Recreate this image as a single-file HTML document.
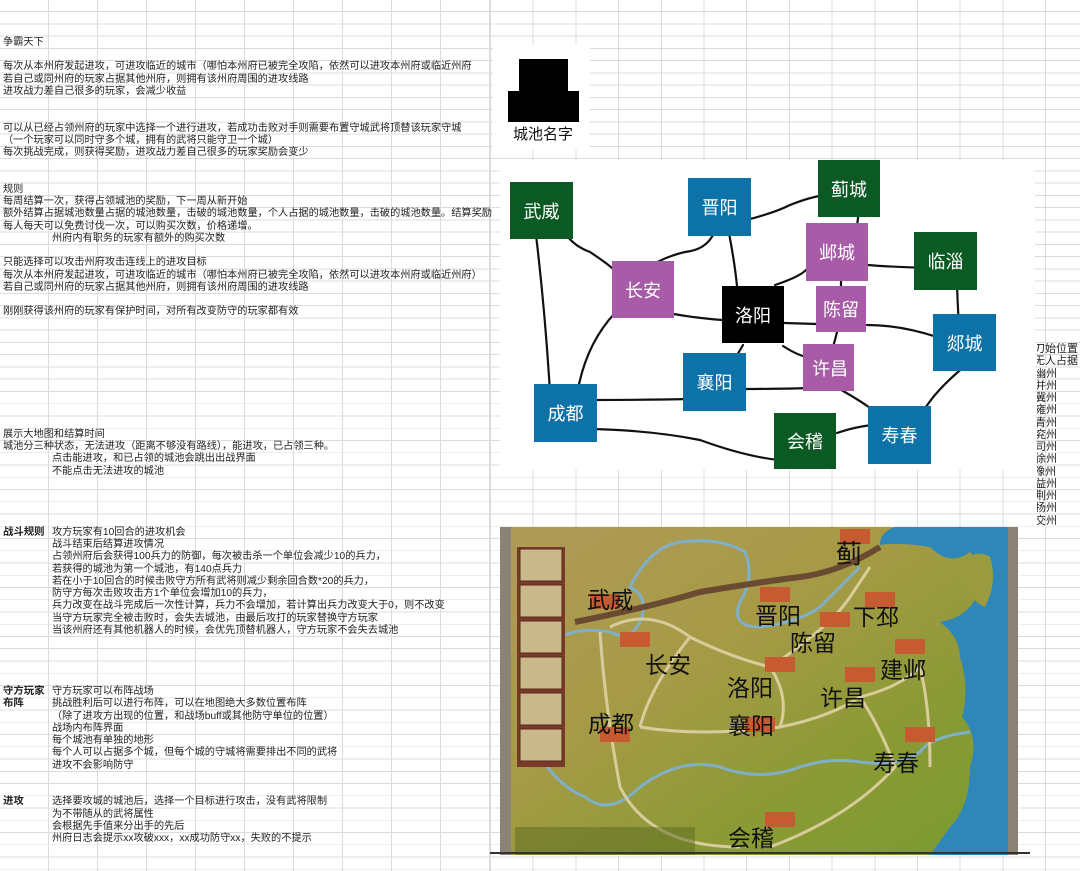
<!DOCTYPE html>
<html><head><meta charset="utf-8">
<style>
*{margin:0;padding:0;box-sizing:border-box}
html,body{width:1080px;height:871px;overflow:hidden;background:#fff}
body{position:relative;font-family:"Liberation Sans","Noto Sans CJK SC",sans-serif;color:#222}
.grid{position:absolute;left:0;top:0;width:1080px;height:871px;
background-image:
repeating-linear-gradient(to bottom,transparent 0,transparent 11.25px,#dcdcdc 11.25px,#dcdcdc 12.25px),
repeating-linear-gradient(to right,transparent 0,transparent 48px,#dcdcdc 48px,#dcdcdc 49px);}
.grid2{position:absolute;left:490px;top:0;width:590px;height:871px;background:#fff;
background-image:
repeating-linear-gradient(to bottom,transparent 0,transparent 11.25px,#dcdcdc 11.25px,#dcdcdc 12.25px),
repeating-linear-gradient(to right,#dcdcdc 0,#dcdcdc 1px,transparent 1px,transparent 42.7px);}
.t{position:absolute;font-size:10.2px;line-height:12.25px;white-space:nowrap}
.b{font-weight:bold;font-size:10.4px}
.wb{position:absolute;background:#fff}
.n{position:absolute;color:#fff;font-size:18px;display:flex;align-items:center;justify-content:center;font-family:"Noto Sans CJK SC",sans-serif}
.g{background:#0b5a24}.bl{background:#0d72a8}.p{background:#a85ca8}.k{background:#000}
.ml{position:absolute;font-size:23px;color:#111;font-family:"Noto Sans CJK SC",sans-serif;line-height:1}
.r{font-size:11px}
</style></head><body>
<div class="grid"></div>
<div class="grid2"></div>

<div class="t" style="left:3px;top:36.75px">争霸天下</div>
<div class="t" style="left:3px;top:61.25px">每次从本州府发起进攻，可进攻临近的城市（哪怕本州府已被完全攻陷，依然可以进攻本州府或临近州府</div>
<div class="t" style="left:3px;top:73.5px">若自己或同州府的玩家占据其他州府，则拥有该州府周围的进攻线路</div>
<div class="t" style="left:3px;top:85.75px">进攻战力差自己很多的玩家，会减少收益</div>
<div class="t" style="left:3px;top:122.5px">可以从已经占领州府的玩家中选择一个进行进攻，若成功击败对手则需要布置守城武将顶替该玩家守城</div>
<div class="t" style="left:3px;top:134.75px">（一个玩家可以同时守多个城，拥有的武将只能守卫一个城）</div>
<div class="t" style="left:3px;top:147px">每次挑战完成，则获得奖励，进攻战力差自己很多的玩家奖励会变少</div>
<div class="t" style="left:3px;top:183.75px">规则</div>
<div class="t" style="left:3px;top:196px">每周结算一次，获得占领城池的奖励，下一周从新开始</div>
<div class="t" style="left:3px;top:208.25px">额外结算占据城池数量占据的城池数量，击破的城池数量，个人占据的城池数量，击破的城池数量。结算奖励</div>
<div class="t" style="left:3px;top:220.5px">每人每天可以免费讨伐一次，可以购买次数，价格递增。</div>
<div class="t" style="left:52px;top:232.75px">州府内有职务的玩家有额外的购买次数</div>
<div class="t" style="left:3px;top:257.25px">只能选择可以攻击州府攻击连线上的进攻目标</div>
<div class="t" style="left:3px;top:269.5px">每次从本州府发起进攻，可进攻临近的城市（哪怕本州府已被完全攻陷，依然可以进攻本州府或临近州府）</div>
<div class="t" style="left:3px;top:281.75px">若自己或同州府的玩家占据其他州府，则拥有该州府周围的进攻线路</div>
<div class="t" style="left:3px;top:306.25px">刚刚获得该州府的玩家有保护时间，对所有改变防守的玩家都有效</div>
<div class="t" style="left:3px;top:428.75px">展示大地图和结算时间</div>
<div class="t" style="left:3px;top:441px">城池分三种状态，无法进攻（距离不够没有路线），能进攻，已占领三种。</div>
<div class="t" style="left:52px;top:453.25px">点击能进攻，和已占领的城池会跳出出战界面</div>
<div class="t" style="left:52px;top:465.5px">不能点击无法进攻的城池</div>

<div class="t b" style="left:3px;top:526.75px">战斗规则</div>
<div class="t" style="left:52px;top:526.75px">攻方玩家有10回合的进攻机会</div>
<div class="t" style="left:52px;top:539px">战斗结束后结算进攻情况</div>
<div class="t" style="left:52px;top:551.25px">占领州府后会获得100兵力的防御，每次被击杀一个单位会减少10的兵力，</div>
<div class="t" style="left:52px;top:563.5px">若获得的城池为第一个城池，有140点兵力</div>
<div class="t" style="left:52px;top:575.75px">若在小于10回合的时候击败守方所有武将则减少剩余回合数*20的兵力，</div>
<div class="t" style="left:52px;top:588px">防守方每次击败攻击方1个单位会增加10的兵力，</div>
<div class="t" style="left:52px;top:600.25px">兵力改变在战斗完成后一次性计算，兵力不会增加，若计算出兵力改变大于0，则不改变</div>
<div class="t" style="left:52px;top:612.5px">当守方玩家完全被击败时，会失去城池，由最后攻打的玩家替换守方玩家</div>
<div class="t" style="left:52px;top:624.75px">当该州府还有其他机器人的时候，会优先顶替机器人，守方玩家不会失去城池</div>

<div class="t b" style="left:3px;top:686px">守方玩家</div>
<div class="t b" style="left:3px;top:698.25px">布阵</div>
<div class="t" style="left:52px;top:686px">守方玩家可以布阵战场</div>
<div class="t" style="left:52px;top:698.25px">挑战胜利后可以进行布阵，可以在地图绝大多数位置布阵</div>
<div class="t" style="left:52px;top:710.5px">（除了进攻方出现的位置，和战场buff或其他防守单位的位置）</div>
<div class="t" style="left:52px;top:722.75px">战场内布阵界面</div>
<div class="t" style="left:52px;top:735px">每个城池有单独的地形</div>
<div class="t" style="left:52px;top:747.25px">每个人可以占据多个城，但每个城的守城将需要排出不同的武将</div>
<div class="t" style="left:52px;top:759.5px">进攻不会影响防守</div>

<div class="t b" style="left:3px;top:796.25px">进攻</div>
<div class="t" style="left:52px;top:796.25px">选择要攻城的城池后，选择一个目标进行攻击，没有武将限制</div>
<div class="t" style="left:52px;top:808.5px">为不带随从的武将属性</div>
<div class="t" style="left:52px;top:820.75px">会根据先手值来分出手的先后</div>
<div class="t" style="left:52px;top:833px">州府日志会提示xx攻破xxx，xx成功防守xx，失败的不提示</div>

<div style="position:absolute;left:1037px;top:343px;width:43px;height:200px;overflow:hidden">
<div class="t r" style="left:-3px;top:0">刀始位置</div>
<div class="t r" style="left:-3px;top:12.25px">无人占据</div>
<div class="t r" style="left:-2px;top:24.5px">幽州</div>
<div class="t r" style="left:-2px;top:36.75px">并州</div>
<div class="t r" style="left:-2px;top:49px">冀州</div>
<div class="t r" style="left:-2px;top:61.25px">雍州</div>
<div class="t r" style="left:-2px;top:73.5px">青州</div>
<div class="t r" style="left:-2px;top:85.75px">兖州</div>
<div class="t r" style="left:-2px;top:98px">司州</div>
<div class="t r" style="left:-2px;top:110.25px">徐州</div>
<div class="t r" style="left:-3px;top:122.5px">豫州</div>
<div class="t r" style="left:-2px;top:134.75px">益州</div>
<div class="t r" style="left:-2px;top:147px">荆州</div>
<div class="t r" style="left:-2px;top:159.25px">扬州</div>
<div class="t r" style="left:-2px;top:171.5px">交州</div>
</div>

<div class="wb" style="left:493px;top:45px;width:97px;height:105px"></div>
<div style="position:absolute;left:519px;top:59px;width:49px;height:33px;background:#000"></div>
<div style="position:absolute;left:508px;top:91px;width:71px;height:31px;background:#000"></div>
<div style="position:absolute;left:513px;top:123px;width:80px;font-size:15px;font-family:'Noto Sans CJK SC',sans-serif;color:#111">城池名字</div>

<div class="wb" style="left:500px;top:160px;width:535px;height:310px"></div>
<svg style="position:absolute;left:0;top:0" width="1080" height="871">
<g fill="none" stroke="#111" stroke-width="2.2" stroke-linecap="round">
<path d="M560 225 Q570 245 590 252 Q605 262 612 268"/>
<path d="M536 235 Q545 310 550 392"/>
<path d="M733 223 Q770 215 790 205 Q810 197 825 195"/>
<path d="M713 235 Q705 250 685 252 Q660 258 643 271"/>
<path d="M729 233 Q735 265 737 286"/>
<path d="M859 203 Q858 230 852 247"/>
<path d="M638 303 Q660 315 722 320"/>
<path d="M615 313 Q585 345 577 395"/>
<path d="M808 267 Q805 275 775 285"/>
<path d="M868 265 Q905 268 943 268"/>
<path d="M841 278 L841 297"/>
<path d="M957 285 Q958 315 960 340"/>
<path d="M784 323 L817 324"/>
<path d="M867 325 Q900 325 937 337"/>
<path d="M837 332 Q834 345 830 355"/>
<path d="M743 345 L733 362"/>
<path d="M783 346 Q800 357 812 358"/>
<path d="M740 389 Q780 389 808 388"/>
<path d="M595 400 Q640 400 692 399"/>
<path d="M588 429 Q650 430 700 440 Q755 460 793 461"/>
<path d="M834 386 Q860 400 877 413"/>
<path d="M965 366 Q930 395 920 418"/>
<path d="M837 433 Q860 425 885 424"/>
</g>
</svg>
<div class="n g" style="left:510px;top:182px;width:63px;height:57px">武威</div>
<div class="n bl" style="left:688px;top:178px;width:63px;height:58px">晋阳</div>
<div class="n g" style="left:818px;top:160px;width:62px;height:57px">蓟城</div>
<div class="n p" style="left:806px;top:223px;width:62px;height:58px">邺城</div>
<div class="n g" style="left:914px;top:232px;width:63px;height:58px">临淄</div>
<div class="n p" style="left:612px;top:261px;width:62px;height:57px">长安</div>
<div class="n k" style="left:722px;top:286px;width:62px;height:57px">洛阳</div>
<div class="n p" style="left:816px;top:286px;width:50px;height:46px">陈留</div>
<div class="n bl" style="left:933px;top:314px;width:63px;height:57px">郯城</div>
<div class="n p" style="left:803px;top:344px;width:51px;height:47px;justify-content:flex-start;padding-left:9px">许昌</div>
<div class="n bl" style="left:683px;top:353px;width:63px;height:58px">襄阳</div>
<div class="n bl" style="left:534px;top:384px;width:63px;height:58px">成都</div>
<div class="n g" style="left:774px;top:413px;width:62px;height:56px">会稽</div>
<div class="n bl" style="left:868px;top:406px;width:63px;height:58px">寿春</div>

<svg style="position:absolute;left:500px;top:527px" width="518" height="328" viewBox="0 0 518 328">
<defs>
<linearGradient id="land" x1="0" y1="0" x2="1" y2="1">
<stop offset="0" stop-color="#b09a58"/><stop offset="0.4" stop-color="#a59a45"/><stop offset="0.7" stop-color="#8a9a35"/><stop offset="1" stop-color="#7a9a30"/>
</linearGradient>
</defs>
<rect width="518" height="328" fill="#8a8274"/>
<rect x="11" y="0" width="497" height="328" fill="url(#land)"/>
<path d="M380 18 Q400 15 430 20 Q450 40 470 25 Q490 45 478 65 Q470 90 440 95 Q460 110 460 130 Q470 160 462 190 Q480 210 470 240 Q470 280 450 300 L430 328 L508 328 L508 0 L395 0 Q380 5 380 18Z" fill="#2f86b8"/>
<path d="M452 40 Q475 20 490 30 Q498 55 485 80 Q470 75 452 40Z" fill="#9a9a40"/>
<g fill="none" stroke="#7fb0c8" stroke-width="3">
<path d="M60 110 Q80 100 110 105 Q130 115 140 95 Q150 70 130 60 Q150 20 180 15 Q220 10 245 25 Q255 50 240 75 Q230 100 260 100 Q300 95 320 80 Q340 60 360 40"/>
<path d="M40 230 Q60 260 85 270 Q110 290 140 260 Q180 230 220 240 Q260 255 300 240 Q330 230 360 235 Q400 240 420 225 Q430 210 470 205"/>
</g>
<g fill="none" stroke="#d8cc9a" stroke-width="3">
<path d="M110 100 Q150 80 190 110 Q230 130 270 140"/>
<path d="M100 105 Q105 180 120 260 Q150 320 240 320"/>
<path d="M190 110 Q150 160 140 200"/>
<path d="M270 140 Q330 100 350 70 L370 40"/>
<path d="M270 140 Q290 170 280 200 Q330 190 360 170 Q400 160 420 140"/>
<path d="M140 200 Q200 210 280 200"/>
<path d="M360 170 Q380 200 395 240 Q350 290 270 320"/>
<path d="M420 140 Q430 180 430 240"/>
</g>
<path d="M75 95 Q150 80 200 65 Q260 55 300 50 Q340 45 380 20" fill="none" stroke="#6a4a30" stroke-width="6"/>
<rect x="17" y="20" width="48" height="220" fill="#7a3a2a"/>
<g fill="#c9b88a" stroke="#5a2a1a"><rect x="20" y="22" width="42" height="32"/><rect x="20" y="58" width="42" height="32"/><rect x="20" y="94" width="42" height="32"/><rect x="20" y="130" width="42" height="32"/><rect x="20" y="166" width="42" height="32"/><rect x="20" y="202" width="42" height="32"/></g>
<g fill="#c65a30">
<rect x="340" y="2" width="30" height="15"/><rect x="90" y="67" width="30" height="15"/><rect x="260" y="60" width="30" height="15"/><rect x="120" y="105" width="30" height="15"/><rect x="320" y="85" width="30" height="15"/><rect x="365" y="65" width="30" height="15"/><rect x="265" y="130" width="30" height="15"/><rect x="345" y="140" width="30" height="15"/><rect x="395" y="112" width="30" height="15"/><rect x="245" y="190" width="30" height="15"/><rect x="100" y="200" width="30" height="15"/><rect x="405" y="200" width="30" height="15"/><rect x="265" y="285" width="30" height="15"/>
</g>
<rect x="15" y="300" width="180" height="28" fill="#5a6a20" opacity="0.5"/>
</svg>
<div class="ml" style="left:587px;top:587px">武威</div>
<div class="ml" style="left:755px;top:603px">晋阳</div>
<div class="ml" style="left:836px;top:540px;font-size:26px">蓟</div>
<div class="ml" style="left:853px;top:604px">下邳</div>
<div class="ml" style="left:790px;top:630px">陈留</div>
<div class="ml" style="left:645px;top:652px">长安</div>
<div class="ml" style="left:880px;top:657px">建邺</div>
<div class="ml" style="left:727px;top:675px">洛阳</div>
<div class="ml" style="left:820px;top:685px">许昌</div>
<div class="ml" style="left:588px;top:711px">成都</div>
<div class="ml" style="left:728px;top:713px">襄阳</div>
<div class="ml" style="left:873px;top:750px">寿春</div>
<div class="ml" style="left:728px;top:825px">会稽</div>
<div style="position:absolute;left:490px;top:852px;width:540px;height:2px;background:#333"></div>
</body></html>
